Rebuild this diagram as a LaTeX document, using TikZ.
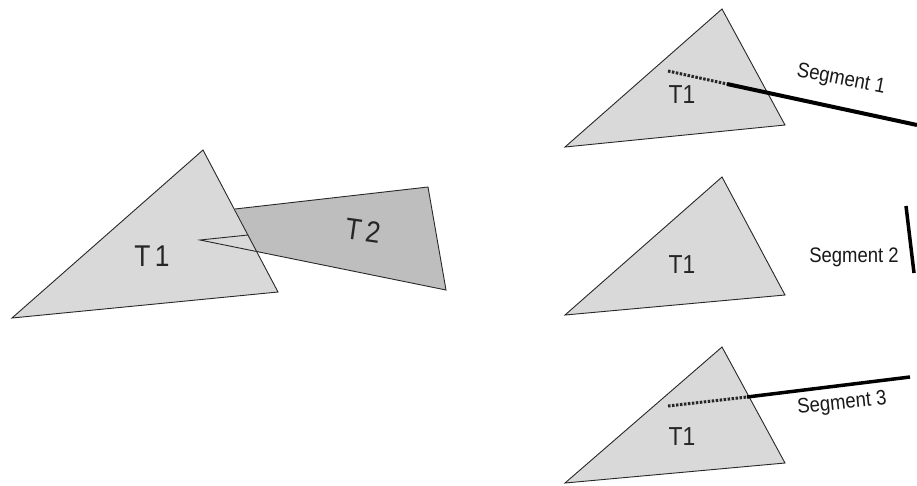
\documentclass[tikz,border=0pt]{standalone}
\usepackage{fontspec}
\setmainfont{Liberation Sans}
\definecolor{lightg}{RGB}{217,217,217}
\definecolor{darkg}{RGB}{190,190,190}
\definecolor{edgec}{RGB}{40,40,40}
\newcommand{\condensed}[1]{\scalebox{0.88}[1]{#1}}
\begin{document}
\begin{tikzpicture}[x=1pt,y=-1pt,
  tri/.style={fill=lightg, draw=edgec, line width=0.9pt, line join=miter},
  edgeline/.style={draw=edgec, line width=0.9pt},
  seg/.style={line width=4pt, draw=black},
  segdot/.style={line width=3pt, dash pattern=on 2.5pt off 1.5pt, draw=black!85},
  biglbl/.style={font=\fontsize{30}{30}\selectfont, inner sep=0pt, text=black!85},
  tlbl/.style={font=\fontsize{26}{26}\selectfont, inner sep=0pt, text=black!85},
  slbl/.style={font=\fontsize{21}{21}\selectfont, inner sep=0pt, text=black!90}]
\useasboundingbox (0,0) rectangle (917,485);
\fill[white] (0,0) rectangle (917,485);

% ---- left: T1 and T2 ----
\fill[darkg] (235,209) -- (428,187) -- (446,290) -- (200,240) -- (248,235) -- cycle;
\draw[tri] (12,318) -- (203,150) -- (278,292) -- cycle;
\draw[edgeline] (248,235) -- (200,240) -- (446,290) -- (428,187) -- (235,209);
\node[biglbl] (lt1) at (152,256) {\condensed{T\,1}};
\node[biglbl, rotate=-8] (lt2) at (363,231) {\condensed{T\,2}};

% ---- right, panel 1 ----
\draw[tri] (565,147) -- (722,9) -- (785,125) -- cycle;
\node[tlbl] (t1a) at (682,95) {\condensed{T1}};
\coordinate (s1a) at (668,71);
\coordinate (s1m) at (727,84);
\coordinate (s1b) at (917,125);
\draw[segdot] (s1a) -- (s1m);
\draw[seg] (s1m) -- (s1b);
\node[slbl, rotate=-11] (seg1) at (841,80) {\condensed{Segment 1}};

% ---- right, panel 2 ----
\draw[tri] (565,315) -- (722,177) -- (785,295) -- cycle;
\node[tlbl] (t1b) at (682,265) {\condensed{T1}};
\coordinate (s2a) at (906,206);
\coordinate (s2b) at (914,273);
\draw[seg, line width=3.5pt] (s2a) -- (s2b);
\node[slbl] (seg2) at (854,257) {\condensed{Segment 2}};

% ---- right, panel 3 ----
\draw[tri] (565,483) -- (722,347) -- (785,463) -- cycle;
\node[tlbl] (t1c) at (682,437) {\condensed{T1}};
\coordinate (s3a) at (668,406);
\coordinate (s3m) at (747,397);
\coordinate (s3b) at (910,377);
\draw[segdot] (s3a) -- (s3m);
\draw[seg, line width=3.5pt] (s3m) -- (s3b);
\node[slbl, rotate=6] (seg3) at (842,404) {\condensed{Segment 3}};
\end{tikzpicture}
\end{document}
